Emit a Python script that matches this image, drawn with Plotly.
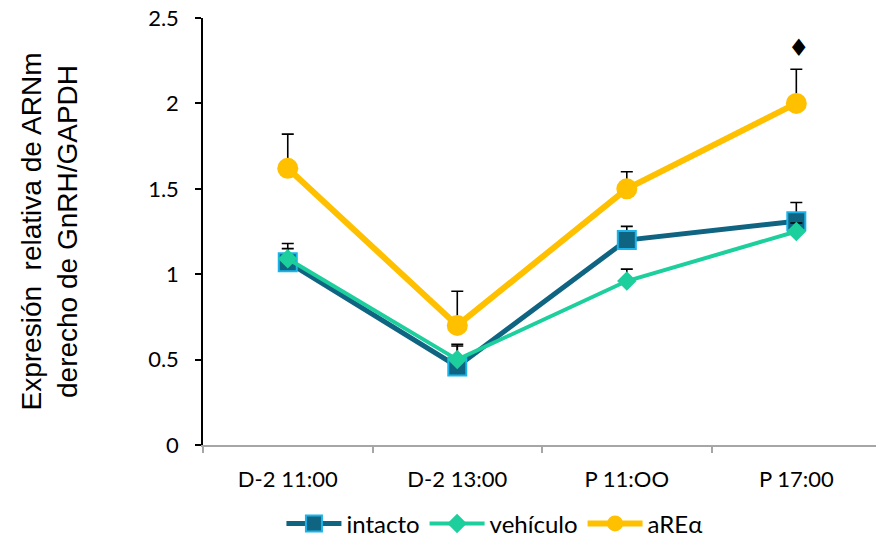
import plotly.graph_objects as go

categories = ["D-2 11:00", "D-2 13:00", "P 11:OO", "P 17:00"]
intacto = [1.07, 0.46, 1.20, 1.31]
intacto_err = [0.11, 0.12, 0.08, 0.11]
vehiculo = [1.09, 0.50, 0.96, 1.25]
vehiculo_err = [0.06, 0.09, 0.07, 0.05]
area = [1.62, 0.70, 1.50, 2.00]
area_err = [0.20, 0.20, 0.10, 0.20]
y_ticks = [0, 0.5, 1, 1.5, 2, 2.5]
y_ticklabels = ["0", "0.5", "1", "1.5", "2", "2.5"]
sig_label = "♦"
sig_pos = (3, 2.34)

xi = list(range(len(categories)))

def err(arr):
    return dict(type="data", array=arr, arrayminus=[0] * len(arr), symmetric=False,
                color="black", thickness=1.6, width=6)

fig = go.Figure()
fig.add_trace(go.Scatter(
    x=xi, y=intacto, name="intacto", mode="lines+markers",
    line=dict(color="#0f6482", width=5),
    marker=dict(symbol="square", size=18, color="#0f6482",
                line=dict(color="#1ab4ea", width=2)),
    error_y=err(intacto_err)))
fig.add_trace(go.Scatter(
    x=xi, y=vehiculo, name="vehículo", mode="lines+markers",
    line=dict(color="#1ccf9c", width=4),
    marker=dict(symbol="diamond", size=15, color="#1ccf9c"),
    error_y=err(vehiculo_err)))
fig.add_trace(go.Scatter(
    x=xi, y=area, name="aREα", mode="lines+markers",
    line=dict(color="#ffc000", width=6),
    marker=dict(symbol="circle", size=21, color="#ffc000"),
    error_y=err(area_err)))

fig.add_annotation(x=sig_pos[0], y=sig_pos[1], text=sig_label, showarrow=False,
                   xshift=3, yshift=-3, font=dict(size=24, color="black", family="DejaVu Sans"))

fig.update_layout(
    width=876, height=540,
    margin=dict(l=203, r=0, t=18, b=95),
    plot_bgcolor="white", paper_bgcolor="white",
    showlegend=True,
    legend=dict(orientation="h", x=0.565, xref="container", xanchor="center",
                y=0.03, yref="container", yanchor="middle", itemwidth=55,
                font=dict(family="Lato", size=24, color="black"),
                traceorder="normal"),
    xaxis=dict(
        range=[-0.5, 3.47], tickmode="array", tickvals=xi, ticktext=categories,
        showgrid=False, zeroline=False, showline=True, linecolor="#a6a6a6", linewidth=1.5,
        ticks="", tickfont=dict(family="Lato", size=22, color="black"),
        ticklabelstandoff=14,
        minor=dict(tickmode="array", tickvals=[-0.5, 0.5, 1.5, 2.5], ticks="outside",
                   ticklen=6, tickcolor="#a6a6a6", tickwidth=1.5),
        automargin=False,
    ),
    yaxis=dict(
        range=[0, 2.5], tickmode="array", tickvals=y_ticks, ticktext=y_ticklabels,
        showgrid=False, zeroline=False, showline=True, linecolor="black", linewidth=1.5,
        ticks="outside", ticklen=6, tickcolor="black", tickwidth=1.5,
        tickfont=dict(family="Lato", size=22, color="black"),
        ticklabelstandoff=12,
        title=dict(text="Expresión  relativa de ARNm<br>derecho de GnRH/GAPDH",
                   font=dict(family="Liberation Sans", size=28, color="black"),
                   standoff=62),
        automargin=False,
    ),
)

fig.write_html("out.html")
